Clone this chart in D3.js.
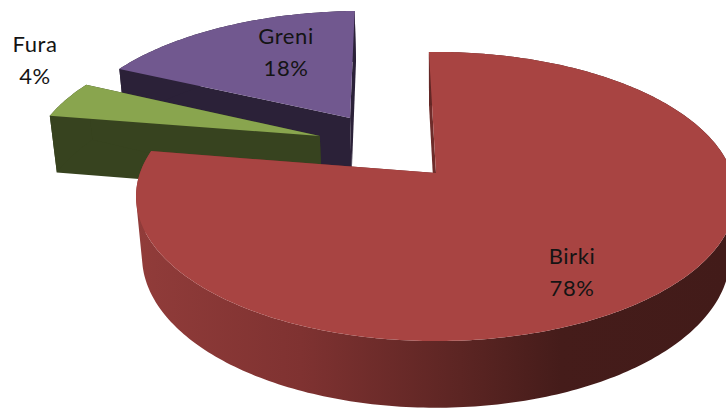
<!DOCTYPE html>
<html lang="en">

<head>
    <meta charset="UTF-8">
    <title>pie test</title>
    <script src="https://cdn.jsdelivr.net/npm/d3@7"></script>
    <style>
        html, body {
            margin: 0;
            background: #fff;
        }

        svg {
            display: block;
        }

        .label {
            font-family: Lato, "Open Sans", sans-serif;
            font-size: 22px;
            letter-spacing: 0.6px;
            fill: #141414;
            text-anchor: middle;
        }
    </style>
</head>

<body>
    <div id="chart"></div>
</body>

<script>
    let categories = ["Birki", "Fura", "Greni"];
    // labels show these rounded: 78%, 4%, 18%
    let shares = [78, 4.4, 17.6];
    let topColors = ["#a84442", "#89a54e", "#71588f"];
    let sideColors = ["#6e2c2a", "#37431f", "#2b2138"];

    let draw = () => {
        let width = 726, height = 409;
        let svg = d3.select("#chart").append("svg")
            .attr("width", width)
            .attr("height", height);

        // slice offset on the pie plane (pie radius = 1), and label anchor on screen
        let explode = [[0, 0], [-0.41, -0.275], [-0.31, -0.417]];
        let labelPos = [[572, 264], [35, 52], [286, 44]];

        // perspective of the tilted pie: plane (X, Y, depth 0..1) -> screen
        let view = { cx: 436, sx: 296, ay: 112.6, by: 173, persp: -0.1626, depth: 64, depthW: 0.02 };
        let project = (X, Y, z) => {
            let w = 1 + view.persp * Y + view.depthW * z;
            return [
                view.cx + view.sx * X / w,
                (view.ay * Y + view.by + view.depth * z) / w
            ];
        };

        let firstAngle = -1.6 * Math.PI / 180;
        let pie = d3.pie().sort(null)
            .startAngle(firstAngle)
            .endAngle(firstAngle + 2 * Math.PI);
        let arcs = pie(shares);

        let line = d3.line();

        // point on the rim / centre of slice i
        let rim = (i, a, z) => project(
            Math.sin(a) + explode[i][0],
            -Math.cos(a) + explode[i][1], z);
        let apex = (i, z) => project(explode[i][0], explode[i][1], z);

        let rimAngles = (d) => {
            let n = Math.ceil((d.endAngle - d.startAngle) * 60);
            let t = d3.scaleLinear().domain([0, n]).range([d.startAngle, d.endAngle]);
            return d3.range(n + 1).map(t);
        };

        // wall shading of the big slice, dark towards the right
        let grad = svg.append("defs").append("linearGradient")
            .attr("id", "wall")
            .attr("gradientUnits", "userSpaceOnUse")
            .attr("x1", 136).attr("x2", 726)
            .attr("y1", 0).attr("y2", 0);
        [[0, "#913c3a"], [0.28, "#7f3231"], [0.55, "#5c2523"], [0.72, "#451c1a"], [1, "#421b19"]]
            .forEach((s) => {
                grad.append("stop").attr("offset", s[0]).attr("stop-color", s[1]);
            });

        // far slices first, the big one goes on top
        [2, 1, 0].forEach((i) => {
            let d = arcs[i];
            let angles = rimAngles(d);
            let g = svg.append("g").attr("class", "slice " + categories[i]);
            let wallFill = i === 0 ? "url(#wall)" : sideColors[i];

            let radialWall = (a) => [apex(i, 0), rim(i, a, 0), rim(i, a, 1), apex(i, 1)];

            // walls
            g.append("path")
                .attr("d", line(radialWall(d.startAngle)) + "Z")
                .attr("fill", sideColors[i]);
            g.append("path")
                .attr("d", line(radialWall(d.endAngle)) + "Z")
                .attr("fill", sideColors[i]);
            // rim wall: one path of strips all wound the same way,
            // a single outline would cancel itself at the fold
            let strips = d3.pairs(angles).map((p) => {
                let q = [rim(i, p[0], 0), rim(i, p[1], 0), rim(i, p[1], 1), rim(i, p[0], 1)];
                if (d3.polygonArea(q) < 0) q.reverse();
                return line(q) + "Z";
            });
            g.append("path")
                .attr("d", strips.join(""))
                .attr("fill", wallFill);

            // top face
            g.append("path")
                .attr("d", line([apex(i, 0)].concat(angles.map((a) => rim(i, a, 0)))) + "Z")
                .attr("fill", topColors[i]);
        });

        // labels
        categories.forEach((c, i) => {
            let t = svg.append("text").attr("class", "label")
                .attr("x", labelPos[i][0])
                .attr("y", labelPos[i][1]);
            t.append("tspan").text(c);
            t.append("tspan")
                .attr("x", labelPos[i][0])
                .attr("dy", 32)
                .text(Math.round(shares[i]) + "%");
        });
    }

    draw();
</script>

</html>
